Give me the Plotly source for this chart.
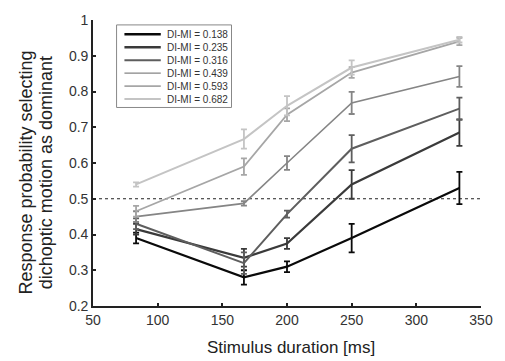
import plotly.graph_objects as go

durations = [83.3, 166.7, 200, 250, 333.3]
labels = ["DI-MI = 0.138", "DI-MI = 0.235", "DI-MI = 0.316",
          "DI-MI = 0.439", "DI-MI = 0.593", "DI-MI = 0.682"]
s1 = [0.39, 0.28, 0.31, 0.39, 0.53]
s2 = [0.415, 0.335, 0.375, 0.54, 0.685]
s3 = [0.43, 0.32, 0.457, 0.64, 0.752]
s4 = [0.45, 0.487, 0.60, 0.768, 0.842]
s5 = [0.465, 0.59, 0.735, 0.853, 0.94]
s6 = [0.54, 0.667, 0.76, 0.867, 0.945]
e1 = [0.015, 0.02, 0.015, 0.04, 0.045]
e2 = [0.015, 0.025, 0.015, 0.04, 0.037]
e3 = [0.015, 0.03, 0.01, 0.038, 0.031]
e4 = [0.015, 0.006, 0.019, 0.031, 0.029]
e5 = [0.015, 0.023, 0.018, 0.015, 0.01]
e6 = [0.006, 0.027, 0.027, 0.02, 0.008]
chance = 0.5
x_title = "Stimulus duration [ms]"
y_title_lines = ["Response probability selecting", "dichoptic motion as dominant"]

series = [s1, s2, s3, s4, s5, s6]
errors = [e1, e2, e3, e4, e5, e6]
colors = ["#0a0a0a", "#3a3a3a", "#5e5e5e", "#858585", "#a6a6a6", "#c4c4c4"]
widths = [2.2, 2.2, 2.0, 1.6, 1.8, 2.0]
leg_widths = [2.6, 2.6, 2.0, 1.2, 1.6, 2.0]

W, H = 505, 361
L, R, T, B = 93, 17, 15, 55
PW, PH = W - L - R, H - T - B


def px(X):
    return (X - L) / PW


def py(Y):
    return (H - B - Y) / PH


FONT = "Liberation Sans, Arial, sans-serif"

fig = go.Figure()
fig.add_trace(go.Scatter(x=[50, 350], y=[chance, chance], mode="lines",
                         line=dict(color="#222", width=1.2, dash="dot"),
                         showlegend=False, hoverinfo="skip"))
for name, ys, es, c, w in zip(labels, series, errors, colors, widths):
    fig.add_trace(go.Scatter(
        x=durations, y=ys, mode="lines", name=name, showlegend=False,
        line=dict(color=c, width=w),
        error_y=dict(type="data", array=es, visible=True, color=c,
                     thickness=1.8, width=3),
    ))

axis_common = dict(showline=True, linecolor="#222", linewidth=1.6,
                   ticks="inside", ticklen=3, tickcolor="#222", tickwidth=1.5,
                   showgrid=False, zeroline=False, mirror=False,
                   tickfont=dict(family=FONT, size=14, color="#333"))

shapes = []
annotations = []
# legend box
shapes.append(dict(type="rect", xref="paper", yref="paper",
                   x0=px(117), x1=px(234), y0=py(104), y1=py(20),
                   line=dict(color="#888", width=1), fillcolor="white", layer="above"))
for i, (name, c, lw) in enumerate(zip(labels, colors, leg_widths)):
    yy = 29.5 + 13.2 * i
    shapes.append(dict(type="line", xref="paper", yref="paper",
                       x0=px(125), x1=px(162), y0=py(yy), y1=py(yy),
                       line=dict(color=c, width=lw), layer="above"))
    annotations.append(dict(text=name, xref="paper", yref="paper",
                            x=px(166), y=py(yy), xanchor="left", yanchor="middle",
                            showarrow=False, font=dict(family=FONT, size=10, color="#333")))

annotations.append(dict(text=x_title, xref="paper", yref="paper",
                        x=px(295), y=py(348), xanchor="center", yanchor="middle",
                        showarrow=False, font=dict(family=FONT, size=17, color="#222")))
for xc, line in zip([25, 46], y_title_lines):
    annotations.append(dict(text=line, xref="paper", yref="paper",
                            x=px(xc), y=py(170), xanchor="center", yanchor="middle",
                            textangle=-90, showarrow=False,
                            font=dict(family=FONT, size=18, color="#222")))

fig.update_layout(
    width=W, height=H,
    margin=dict(l=L, r=R, t=T, b=B),
    paper_bgcolor="white", plot_bgcolor="white",
    font=dict(family=FONT, color="#222"),
    showlegend=False,
    xaxis=dict(range=[50, 350], tickvals=[50, 100, 150, 200, 250, 300, 350],
               **axis_common),
    yaxis=dict(range=[0.2, 1.0], tickvals=[0.2, 0.3, 0.4, 0.5, 0.6, 0.7, 0.8, 0.9, 1.0],
               ticktext=["0.2", "0.3", "0.4", "0.5", "0.6", "0.7", "0.8", "0.9", "1"],
               **axis_common),
    shapes=shapes,
    annotations=annotations,
)

fig.write_html("out.html", config={"displayModeBar": False},
               post_script="document.body.style.margin='0px';")
